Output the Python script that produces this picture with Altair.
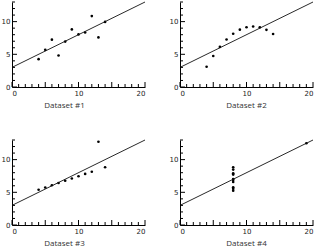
import altair as alt
import pandas as pd

x123 = [10, 8, 13, 9, 11, 14, 6, 4, 12, 7, 5]
y1 = [8.04, 6.95, 7.58, 8.81, 8.33, 9.96, 7.24, 4.26, 10.84, 4.82, 5.68]
y2 = [9.14, 8.14, 8.74, 8.77, 9.26, 8.10, 6.13, 3.10, 9.13, 7.26, 4.74]
y3 = [7.46, 6.77, 12.74, 7.11, 7.81, 8.84, 6.08, 5.39, 8.15, 6.42, 5.73]
x4 = [8, 8, 8, 8, 8, 8, 8, 19, 8, 8, 8]
y4 = [6.58, 5.76, 7.71, 8.84, 8.47, 7.04, 5.25, 12.50, 5.56, 7.91, 6.89]

line_x = [0, 20]
line_y = [3, 13]

titles = ["Dataset #1", "Dataset #2", "Dataset #3", "Dataset #4"]
x_major = [0, 5, 10, 15, 20]
x_minor = [v for v in range(0, 21) if v % 5 != 0]
y_major = [0, 5, 10]
y_minor = [v for v in range(0, 14) if v % 5 != 0]

W, H = 133, 85
xs = alt.Scale(domain=[0, 20], nice=False)
ys = alt.Scale(domain=[0, 13], nice=False)


def panel(xv, yv, title, dx):
    pts = pd.DataFrame({"x": xv, "y": yv})
    ln = pd.DataFrame({"x": line_x, "y": line_y})
    xaxis = alt.Axis(values=x_major, ticks=False, grid=False, labelFontSize=7,
                     labelPadding=2, labelColor="#222", labelFont="DejaVu Sans",
                     domainColor="#000", title=None)
    yaxis = alt.Axis(values=y_major, ticks=False, grid=False, labelFontSize=7,
                     labelPadding=2, labelColor="#222", labelFont="DejaVu Sans",
                     domainColor="#000", title=None)
    base_x = alt.X("x:Q", scale=xs, axis=xaxis)
    base_y = alt.Y("y:Q", scale=ys, axis=yaxis)
    points = alt.Chart(pts).mark_circle(size=7, color="#000", opacity=1).encode(x=base_x, y=base_y)
    line = alt.Chart(ln).mark_line(color="#111", strokeWidth=0.9).encode(x="x:Q", y="y:Q")
    xmaj = alt.Chart(pd.DataFrame({"t": x_major})).mark_rule(color="#000", strokeWidth=1).encode(
        x="t:Q", y=alt.value(H), y2=alt.value(H - 5))
    xmin = alt.Chart(pd.DataFrame({"t": x_minor})).mark_rule(color="#000", strokeWidth=1).encode(
        x="t:Q", y=alt.value(H), y2=alt.value(H - 3))
    ymaj = alt.Chart(pd.DataFrame({"t": y_major})).mark_rule(color="#000", strokeWidth=1).encode(
        y="t:Q", x=alt.value(0), x2=alt.value(5))
    ymin = alt.Chart(pd.DataFrame({"t": y_minor})).mark_rule(color="#000", strokeWidth=1).encode(
        y="t:Q", x=alt.value(0), x2=alt.value(3))
    return alt.layer(points, line, xmaj, xmin, ymaj, ymin).properties(
        width=W, height=H,
        title=alt.TitleParams(title, orient="bottom", fontSize=8, fontWeight="normal",
                              font="Open Sans", color="#333", offset=6, dx=dx),
    )


p1 = panel(x123, y1, titles[0], -14)
p2 = panel(x123, y2, titles[1], 0)
p3 = panel(x123, y3, titles[2], -14)
p4 = panel(x4, y4, titles[3], 0)

chart = alt.vconcat(
    alt.hconcat(p1, p2, spacing=22),
    alt.hconcat(p3, p4, spacing=22),
    spacing=28,
).properties(padding={"left": 1, "top": 0, "right": 2, "bottom": 0}).configure_view(stroke=None)

chart.save("out.html", embed_options={"renderer": "svg", "actions": False})
